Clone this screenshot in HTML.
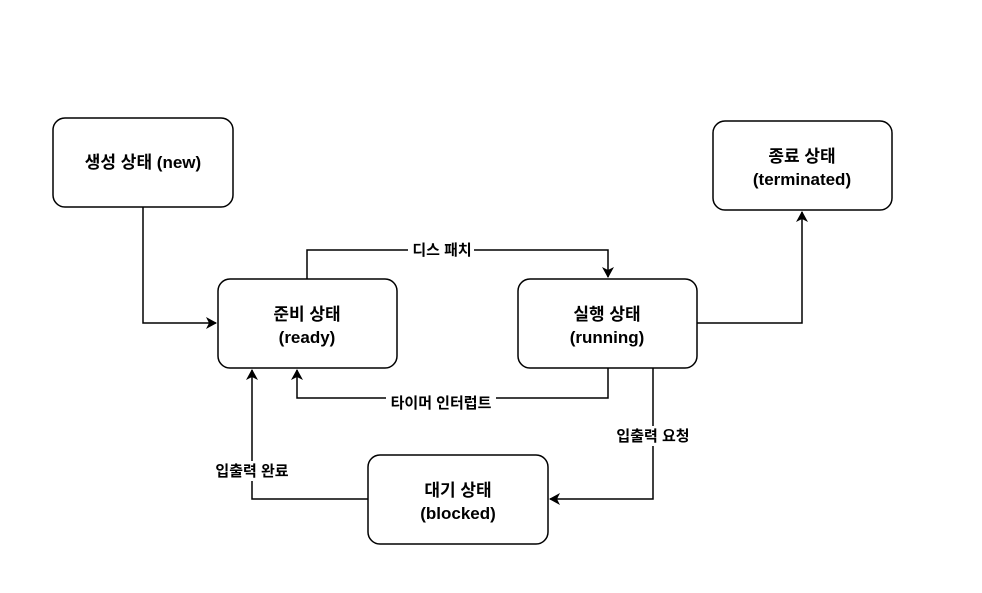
<!DOCTYPE html>
<html><head><meta charset="utf-8"><style>
body{margin:0;background:#fff;}
svg text{font-family:"Liberation Sans","Noto Sans CJK KR",sans-serif;font-weight:bold;}
</style></head><body>
<svg width="982" height="588" viewBox="0 0 982 588" xmlns="http://www.w3.org/2000/svg">
<defs><marker id="a" markerWidth="12" markerHeight="12" refX="10" refY="6" orient="auto" markerUnits="userSpaceOnUse"><path d="M0,0 L11,6 L0,12 L3,6 Z" fill="#000"/></marker></defs>
<g fill="none" stroke="#000" stroke-width="1.5">
<rect x="53" y="118" width="180" height="89" rx="12"/>
<rect x="713" y="121" width="179" height="89" rx="12"/>
<rect x="218" y="279" width="179" height="89" rx="12"/>
<rect x="518" y="279" width="179" height="89" rx="12"/>
<rect x="368" y="455" width="180" height="89" rx="12"/>
<path d="M143 207 V323 H216" marker-end="url(#a)"/>
<path d="M307 279 V250 H608 V277" marker-end="url(#a)"/>
<path d="M697 323 H802 V212" marker-end="url(#a)"/>
<path d="M608 368 V398 H297 V370" marker-end="url(#a)"/>
<path d="M653 368 V499 H550" marker-end="url(#a)"/>
<path d="M368 499 H252 V370" marker-end="url(#a)"/>
</g>
<g fill="#fff">
<rect x="408" y="240" width="66" height="20"/>
<rect x="386" y="390" width="110" height="20"/>
<rect x="612" y="426" width="82" height="20"/>
<rect x="212" y="461" width="80" height="20"/>
</g>
<g font-size="17" text-anchor="middle" fill="#000">
<text x="143" y="168">생성 상태 (new)</text>
<text x="802" y="162">종료 상태</text><text x="802" y="185">(terminated)</text>
<text x="307" y="320">준비 상태</text><text x="307" y="343">(ready)</text>
<text x="607" y="320">실행 상태</text><text x="607" y="343">(running)</text>
<text x="458" y="496">대기 상태</text><text x="458" y="519">(blocked)</text>
</g>
<g font-size="15" text-anchor="middle" fill="#000">
<text x="442" y="255">디스 패치</text>
<text x="441" y="408">타이머 인터럽트</text>
<text x="653" y="441">입출력 요청</text>
<text x="252" y="476">입출력 완료</text>
</g>
</svg>
</body></html>
